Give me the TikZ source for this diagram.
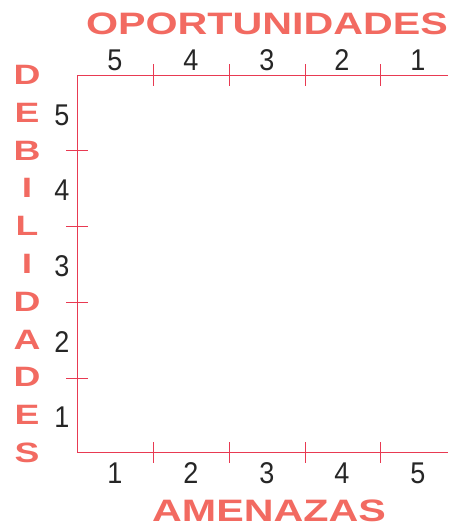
\documentclass[tikz,border=0pt]{standalone}
\usepackage{fontspec}
\setmainfont{Liberation Sans}
\newfontfamily\swotfont{Liberation Sans}[FakeStretch=1.33]
\newfontfamily\scalefont{Liberation Sans}[FakeStretch=0.9]
\usepackage{tikz}
\definecolor{swotsalmon}{HTML}{F26A61}
\definecolor{swotred}{HTML}{E83A52}

\begin{document}
\begin{tikzpicture}[
x=1pt,y=-1pt,
axis/.style={draw=swotred,line width=0.9pt},
tickmark/.style={draw=swotred,line width=0.8pt},
title/.style={inner sep=0pt,text=swotsalmon,
font=\swotfont\bfseries\fontsize{31}{31}\selectfont},
side/.style={inner sep=0pt,text=swotsalmon,
font=\swotfont\bfseries\fontsize{28}{28}\selectfont},
num/.style={inner sep=0pt,text=black!85,font=\scalefont\fontsize{30}{30}\selectfont}
]
\useasboundingbox (0,0) rectangle (448,525);

% axes
\coordinate (tr) at (448,75);
\coordinate (tl) at (77,75);
\coordinate (bl) at (77,452);
\coordinate (br) at (448,452);
\draw[axis] (tr) -- (tl) -- (bl) -- (br);

% ticks
\draw[tickmark] (153,64) -- (153,86);  \draw[tickmark] (229,64) -- (229,86);
\draw[tickmark] (305,64) -- (305,86);  \draw[tickmark] (380,64) -- (380,86);
\draw[tickmark] (153,442) -- (153,463);  \draw[tickmark] (229,442) -- (229,463);
\draw[tickmark] (305,442) -- (305,463);  \draw[tickmark] (380,442) -- (380,463);
\draw[tickmark] (66,150) -- (88,150);  \draw[tickmark] (66,226) -- (88,226);
\draw[tickmark] (66,302) -- (88,302);  \draw[tickmark] (66,378) -- (88,378);

% titles
\node[title] (opor) at (267,23.5) {OPORTUNIDADES};
\node[title] (amen) at (269,510.5) {AMENAZAS};

\node[side] (d1) at (27,75) {D};
\node[side] (d2) at (27,113) {E};
\node[side] (d3) at (27,151) {B};
\node[side] (d4) at (27,188) {I};
\node[side] (d5) at (27,226) {L};
\node[side] (d6) at (27,264) {I};
\node[side] (d7) at (27,302) {D};
\node[side] (d8) at (27,340) {A};
\node[side] (d9) at (27,377) {D};
\node[side] (d10) at (27,415) {E};
\node[side] (d11) at (27,453) {S};

% scale numbers
\node[num] (o5) at (115,60) {5};
\node[num] (o4) at (191,60) {4};
\node[num] (o3) at (267,60) {3};
\node[num] (o2) at (342,60) {2};
\node[num] (o1) at (418,60) {1};

\node[num] (a1) at (115,473) {1};
\node[num] (a2) at (191,473) {2};
\node[num] (a3) at (267,473) {3};
\node[num] (a4) at (342,473) {4};
\node[num] (a5) at (418,473) {5};

\node[num] (w5) at (62,115) {5};
\node[num] (w4) at (62,190) {4};
\node[num] (w3) at (62,266) {3};
\node[num] (w2) at (62,342) {2};
\node[num] (w1) at (62,417) {1};
\end{tikzpicture}
\end{document}
